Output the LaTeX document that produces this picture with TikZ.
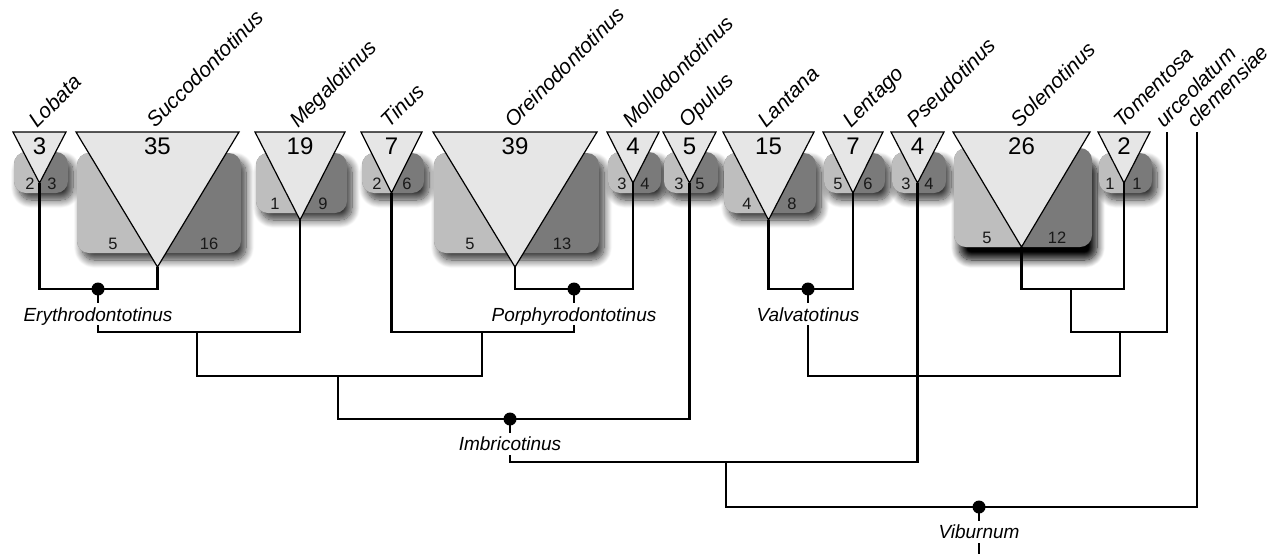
\documentclass[tikz,border=0pt]{standalone}
\usepackage{fontspec}
\setmainfont{Liberation Sans}
\usetikzlibrary{shadows.blur}
\definecolor{trifill}{HTML}{E6E6E6}
\definecolor{boxlight}{HTML}{BEBEBE}
\definecolor{boxdark}{HTML}{7A7A7A}

\begin{document}
\begin{tikzpicture}[x=1pt,y=-1pt,
  branch/.style={line width=2.2pt},
  tri/.style={draw=black,line width=1.2pt,fill=trifill},
  boxr/.style={fill=boxdark,rounded corners=12pt},
  boxl/.style={fill=boxlight,rounded corners=12pt},
  bignum/.style={font=\fontsize{24}{24}\selectfont},
  smallnum/.style={font=\fontsize{16.5}{16.5}\selectfont,text=black!90},
  taxon/.style={rotate=45,anchor=base west,inner sep=0pt,font=\fontsize{21}{21}\selectfont\itshape},
  clade/.style={fill=white,inner xsep=1pt,inner ysep=2pt,text height=16pt,text depth=2pt,font=\fontsize{19}{19}\selectfont\itshape}]
\useasboundingbox (0,0) rectangle (1281,554);

% collapsed clades: id/left/right/tip/box top/box bottom/count/left no./x/right no./x/name/shadow/drop
\foreach \id/\xl/\xr/\ty/\bt/\bb/\cnt/\nl/\xa/\nr/\xb/\taxname/\sop/\sy in {
  lob/13/66/183/152/193/3/2/30/3/52/Lobata/80/7,
  suc/76/239/267/153/253/35/5/113/16/209/Succodontotinus/80/7,
  meg/255/345/220/153/213/19/1/275/9/323/Megalotinus/80/7,
  tin/361/422/193/153/193/7/2/377/6/407/Tinus/80/7,
  ore/433/597/267/153/253/39/5/470/13/562/Oreinodontotinus/80/7,
  mol/607/659/183/152/193/4/3/622/4/645/Mollodontotinus/80/7,
  opu/663/716/183/152/193/5/3/679/5/700/Opulus/80/7,
  lan/723/814/220/153/213/15/4/747/8/792/Lantana/80/7,
  len/823/883/193/153/193/7/5/838/6/868/Lentago/80/7,
  pse/891/944/183/152/193/4/3/906/4/929/Pseudotinus/80/7,
  sol/953/1090/247/148/247/26/5/987/12/1057/Solenotinus/100/13,
  tom/1098/1150/183/153/193/2/1/1110/1/1137/Tomentosa/80/7}{
  \path[boxr,blur shadow={shadow xshift=5pt,shadow yshift=-\sy pt,shadow opacity=\sop,shadow blur radius=8pt,shadow blur steps=12}]
    (\xl+1,\bt) rectangle (\xr+2,\bb);
  \begin{scope}
    \clip (\xl-5,140) rectangle ({(\xl+\xr)/2},\bb+5);
    \fill[boxl] (\xl+1,\bt) rectangle (\xr+2,\bb);
  \end{scope}
  \draw[tri] (\xl,132) -- (\xr,132) -- ({(\xl+\xr)/2},\ty) coordinate (\id) -- cycle;
  \node[bignum] (\id-c) at ({(\xl+\xr)/2},146) {\cnt};
  \node[smallnum] (\id-a) at (\xa,\bb-9) {\nl};
  \node[smallnum] (\id-b) at (\xb,\bb-9) {\nr};
  \node[taxon] (\id-t) at ({(\xl+\xr)/2-2},129) {\taxname};
}

% single species
\coordinate (urc) at (1167,132);
\coordinate (cle) at (1197,132);
\node[taxon] (urc-t) at (1164,129) {urceolatum};
\node[taxon] (cle-t) at (1195,129) {clemensiae};

% branching points
\coordinate (ery) at (98,289);
\coordinate (n1) at (197,332);
\coordinate (por) at (574,289);
\coordinate (n2) at (482,332);
\coordinate (n3) at (338,376);
\coordinate (imb) at (510,419);
\coordinate (n7) at (726,462);
\coordinate (val) at (808,289);
\coordinate (n4) at (1071,289);
\coordinate (n5) at (1120,332);
\coordinate (n6) at (917.5,376);
\coordinate (vib) at (979,507);
\coordinate (root) at (979,554);

\draw[branch] (lob) |- (ery) -| (suc);
\draw[branch] (ery) |- (n1) -| (meg);
\draw[branch] (ore) |- (por) -| (mol);
\draw[branch] (tin) |- (n2) -| (por);
\draw[branch] (n1) |- (n3) -| (n2);
\draw[branch] (n3) |- (imb) -| (opu);
\draw[branch] (imb) |- (n7) -| (pse);
\draw[branch] (lan) |- (val) -| (len);
\draw[branch] (sol) |- (n4) -| (tom);
\draw[branch] (n4) |- (n5) -| (urc);
\draw[branch] (val) |- (n6) -| (n5);
\draw[branch] (n7) |- (vib) -| (cle);
\draw[branch] (vib) -- (root);

\foreach \c in {ery,por,val,imb,vib}
  \fill (\c) circle (6.5pt);

\node[clade] (ery-l) at (98,314) {Erythrodontotinus};
\node[clade] (por-l) at (574,314) {Porphyrodontotinus};
\node[clade] (val-l) at (808,314) {Valvatotinus};
\node[clade] (imb-l) at (510,443.5) {Imbricotinus};
\node[clade] (vib-l) at (979,531.5) {Viburnum};
\end{tikzpicture}
\end{document}
